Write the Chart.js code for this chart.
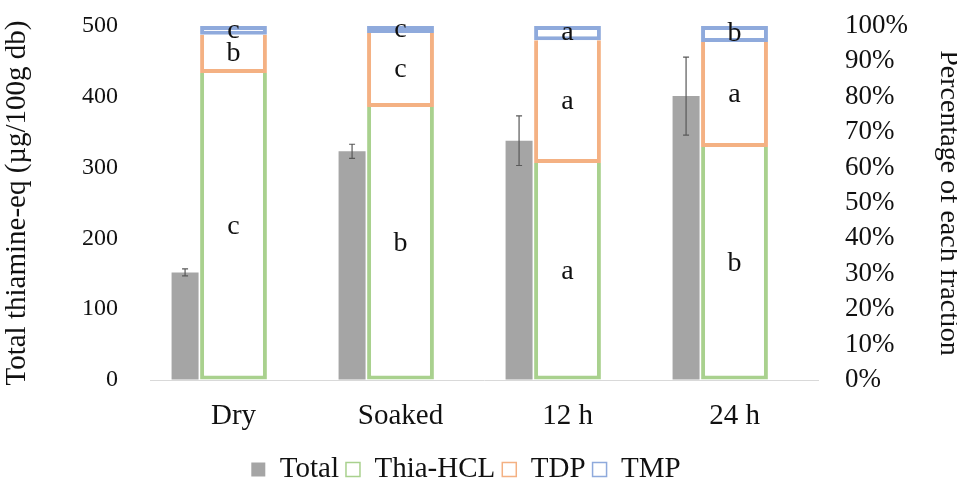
<!DOCTYPE html>
<html lang="en">
<head>
  <meta charset="UTF-8" />
  <title>Thiamine fractions</title>
  <script src="https://cdn.jsdelivr.net/npm/chart.js@4.4.1/dist/chart.umd.min.js"></script>
  <style>
    body { margin: 0; background: #FFFFFF; }
    #wrap { width: 957px; height: 480px; }
  </style>
</head>
<body>
  <div id="wrap"><canvas id="chart" width="957" height="480"></canvas></div>

<script>
  // values
  const categories = ['Dry', 'Soaked', '12 h', '24 h'];
  const totalValues = [152, 323, 338, 401];
  const totalErrors = [5, 10, 35, 55];
  const thiaPct = [86.7, 77.1, 61.3, 65.8];
  const tdpPct = [10.8, 20.9, 34.7, 29.7];
  const tmpPct = [2.5, 2.0, 4.0, 4.5];
  const thiaLetters = ['c', 'b', 'a', 'b'];
  const tdpLetters = ['b', 'c', 'a', 'a'];
  const tmpLetters = ['c', 'c', 'a', 'b'];
  const leftTicks = [0, 100, 200, 300, 400, 500];
  const rightTicks = [0, 10, 20, 30, 40, 50, 60, 70, 80, 90, 100];

  const serif = 'Liberation Serif';
  const textColor = '#111111';
  const totalShift = 0.29; // gray bar sits left of the stacked bar
  const leftBleed = 33;    // negative left padding, so the legend centres like the original

  // invisible tick marks, only used to push the labels away from the plot
  function hiddenTicks(len) {
    return { display: true, drawOnChartArea: false, drawTicks: true, tickLength: len, color: 'rgba(0,0,0,0)' };
  }

  // error whiskers on Total + letters inside each fraction segment
  const extras = {
    id: 'extras',
    afterDatasetsDraw(chart) {
      const ctx = chart.ctx;
      const xs = chart.scales.x2, ys = chart.scales.y;
      ctx.save();
      ctx.strokeStyle = '#595959';
      ctx.lineWidth = 1.2;
      totalValues.forEach((v, i) => {
        const x = xs.getPixelForValue(i);
        const y1 = ys.getPixelForValue(v + totalErrors[i]);
        const y2 = ys.getPixelForValue(v - totalErrors[i]);
        ctx.beginPath();
        ctx.moveTo(x, y1); ctx.lineTo(x, y2);
        ctx.moveTo(x - 3, y1); ctx.lineTo(x + 3, y1);
        ctx.moveTo(x - 3, y2); ctx.lineTo(x + 3, y2);
        ctx.stroke();
      });
      ctx.fillStyle = textColor;
      ctx.font = '28px "' + serif + '"';
      ctx.textAlign = 'center';
      ctx.textBaseline = 'middle';
      [[1, thiaLetters], [2, tdpLetters], [3, tmpLetters]].forEach(([di, letters]) => {
        chart.getDatasetMeta(di).data.forEach((bar, i) => {
          ctx.fillText(letters[i], bar.x, (bar.y + bar.base) / 2);
        });
      });
      ctx.restore();
    }
  };

  const baseLegend = Chart.defaults.plugins.legend.labels.generateLabels;

  function fraction(label, data, color, skipped) {
    return {
      label: label,
      data: data,
      xAxisID: 'x',
      yAxisID: 'y1',
      stack: 'f',
      grouped: false,
      backgroundColor: '#FFFFFF',
      borderColor: color,
      borderWidth: 4,
      borderSkipped: skipped,
      categoryPercentage: 0.8,
      barPercentage: 0.5
    };
  }

  new Chart(document.getElementById('chart'), {
    type: 'bar',
    data: {
      labels: categories,
      datasets: [
        {
          label: 'Total',
          data: totalValues.map((v, i) => ({ x: i, y: v })),
          xAxisID: 'x2',
          yAxisID: 'y',
          grouped: false,
          backgroundColor: '#A5A5A5',
          borderWidth: 0,
          maxBarThickness: 27
        },
        fraction('Thia-HCL', thiaPct, '#A9D18E', 'top'),
        fraction('TDP', tdpPct, '#F4B183', 'top'),
        fraction('TMP', tmpPct, '#8FAADC', false)
      ]
    },
    options: {
      responsive: false,
      animation: false,
      layout: { padding: { top: 26, bottom: -14, left: -leftBleed, right: -8 } },
      plugins: {
        tooltip: { enabled: false },
        legend: {
          position: 'bottom',
          labels: {
            boxWidth: 14,
            boxHeight: 14,
            padding: 7,
            color: textColor,
            font: { family: serif, size: 29 },
            generateLabels(chart) {
              return baseLegend(chart).map(item => {
                item.lineWidth = item.text === 'Total' ? 0 : 1.5;
                return item;
              });
            }
          }
        }
      },
      scales: {
        x: {
          type: 'category',
          stacked: true,
          grid: { display: false },
          border: { color: '#D9D9D9', width: 1 },
          ticks: { color: textColor, padding: 11, font: { family: serif, size: 29 } },
          afterFit(scale) { scale.height = 68; }
        },
        x2: {
          type: 'linear',
          display: false,
          offset: false,
          min: -0.5 + totalShift,
          max: categories.length - 0.5 + totalShift
        },
        y: {
          position: 'left',
          min: 0,
          max: 500,
          grid: hiddenTicks(30),
          border: { display: false },
          afterBuildTicks(scale) { scale.ticks = leftTicks.map(v => ({ value: v })); },
          ticks: { color: textColor, padding: 2, autoSkip: false, font: { family: serif, size: 24 } },
          title: {
            display: true,
            text: 'Total thiamine-eq (µg/100g db)',
            color: textColor,
            font: { family: serif, size: 29 },
            padding: { top: leftBleed, bottom: 0 }
          },
          afterFit(scale) { scale.width = 150 + leftBleed; }
        },
        y1: {
          position: 'right',
          min: 0,
          max: 100,
          stacked: true,
          grid: hiddenTicks(25),
          border: { display: false },
          afterBuildTicks(scale) { scale.ticks = rightTicks.map(v => ({ value: v })); },
          ticks: {
            color: textColor,
            padding: 2,
            autoSkip: false,
            font: { family: serif, size: 27 },
            callback: v => v + '%'
          },
          title: {
            display: true,
            text: 'Percentage of each fraction',
            color: textColor,
            font: { family: serif, size: 28 },
            padding: { top: 0, bottom: 0 }
          },
          afterFit(scale) { scale.width = 147; }
        }
      }
    },
    plugins: [extras]
  });
</script>
</body>
</html>
